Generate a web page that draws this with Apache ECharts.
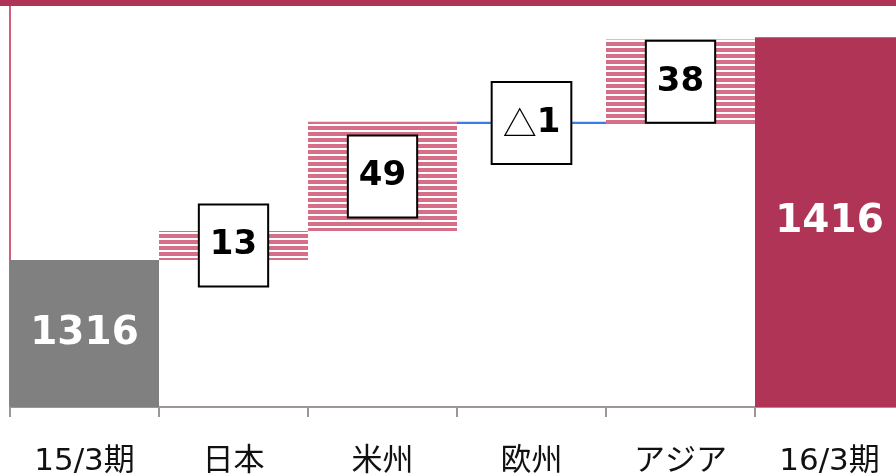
<!DOCTYPE html>
<html>
<head>
<meta charset="utf-8">
<script src="https://cdn.jsdelivr.net/npm/echarts@6/dist/echarts.min.js"></script>
<style>html,body{margin:0;padding:0;background:#fff}#c{width:896px;height:474px}</style>
</head>
<body>
<div id="c"></div>
<script>
var categories = ['15/3期', '日本', '米州', '欧州', 'アジア', '16/3期'];
var startTotal = 1316;
var endTotal = 1416;
var changes = [13, 49, -1, 38];
var changeLabels = ['13', '49', '△1', '38'];

var CRIMSON = '#AF3456', GRAY = '#808080', PINK = '#D76E87', BLUE = '#3A7DE8';

var pat = document.createElement('canvas');
pat.width = 8; pat.height = 6;
var pc = pat.getContext('2d');
pc.fillStyle = '#ffffff'; pc.fillRect(0, 0, 8, 6);
pc.fillStyle = PINK; pc.fillRect(0, 0, 8, 4);

var baseData = [0], deltaData = ['-'], totalData = [];
var cum = startTotal;
changes.forEach(function (v, i) {
  var lo = v >= 0 ? cum : cum + v;
  baseData.push(lo);
  var item = { value: Math.abs(v), name: changeLabels[i] };
  if (v < 0) item.itemStyle = { color: BLUE };
  deltaData.push(item);
  cum += v;
});
baseData.push(0); deltaData.push('-');
for (var i = 0; i < categories.length; i++) totalData.push('-');
totalData[0] = { value: startTotal, itemStyle: { color: GRAY } };
totalData[categories.length - 1] = { value: endTotal, itemStyle: { color: CRIMSON } };

var chart = echarts.init(document.getElementById('c'), null, { renderer: 'canvas' });
chart.setOption({
  animation: false,
  grid: { left: 10, right: -8, top: 6, bottom: 67, containLabel: false, outerBoundsMode: 'none' },
  graphic: [{ type: 'rect', left: 0, top: 0, shape: { width: 896, height: 6 }, style: { fill: CRIMSON }, z: 100 }],
  xAxis: {
    type: 'category', data: categories,
    axisLine: { lineStyle: { color: '#9E9599', width: 2 } },
    axisTick: { show: true, length: 10, lineStyle: { color: '#9E9599', width: 2 } },
    axisLabel: { margin: 39, fontSize: 31, color: '#111', fontFamily: 'DejaVu Sans, Noto Sans CJK JP' }
  },
  yAxis: {
    type: 'value', min: 1250, max: 1430,
    axisLine: { show: true, lineStyle: { color: '#D0607A', width: 2 } },
    axisTick: { show: false }, axisLabel: { show: false }, splitLine: { show: false }
  },
  series: [
    { type: 'bar', stack: 'w', data: baseData, barWidth: '100%', itemStyle: { color: 'transparent' }, silent: true },
    {
      type: 'bar', stack: 'w', data: deltaData, barWidth: '100%',
      itemStyle: { color: { image: pat, repeat: 'repeat' } },
      label: {
        show: true, position: 'inside',
        formatter: function (p) {
          var n = p.data.name;
          if (n.charAt(0) === '△') return '{t|△}{b|' + n.slice(1) + '}';
          return '{b|' + n + '}';
        },
        backgroundColor: '#fff', borderColor: '#000', borderWidth: 2, padding: [22, 10],
        rich: {
          b: { fontSize: 34, fontWeight: 'bold', color: '#000', fontFamily: 'DejaVu Sans', lineHeight: 36 },
          t: { fontSize: 34, color: '#000', fontFamily: 'Noto Sans CJK JP', lineHeight: 36 }
        }
      }
    },
    {
      type: 'bar', data: totalData, barWidth: '100%', barGap: '-100%',
      label: { show: true, position: 'inside', color: '#fff', fontSize: 39, fontWeight: 'bold', fontFamily: 'DejaVu Sans' }
    }
  ]
});
</script>
</body>
</html>
